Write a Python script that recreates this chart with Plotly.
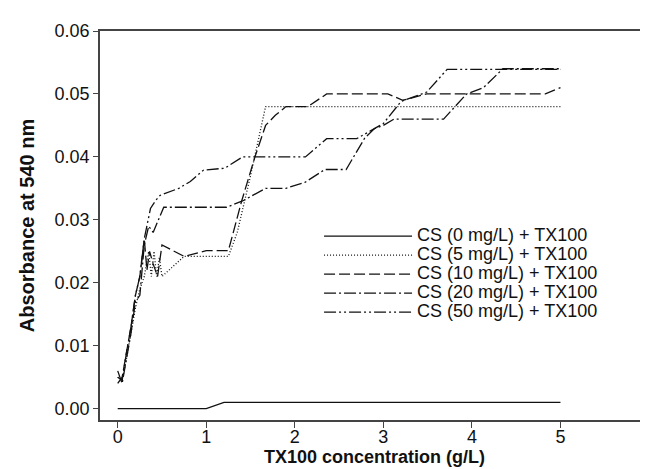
import plotly.graph_objects as go

# ---------------- data ----------------
x_cs0 = [0, 0.05, 0.1, 0.2, 0.3, 0.4, 0.5, 0.75, 1.0, 1.2, 1.5, 2.0, 2.5, 3.0, 3.5, 4.0, 4.5, 5.0]
y_cs0 = [0, 0, 0, 0, 0, 0, 0, 0, 0, 0.001, 0.001, 0.001, 0.001, 0.001, 0.001, 0.001, 0.001, 0.001]

x_cs5 = [0, 0.05, 0.1, 0.15, 0.2, 0.25, 0.3, 0.35, 0.38, 0.41, 0.44, 0.47, 0.5, 0.75, 1.0, 1.25,
         1.35, 1.5, 1.67, 2.0, 2.5, 3.0, 3.5, 4.0, 4.5, 5.0]
y_cs5 = [0.005, 0.0045, 0.008, 0.012, 0.016, 0.019, 0.021, 0.025, 0.021, 0.025, 0.021, 0.024, 0.021,
         0.0242, 0.0242, 0.0242, 0.028, 0.037, 0.048, 0.048, 0.048, 0.048, 0.048, 0.048, 0.048, 0.048]

x_cs10 = [0, 0.05, 0.1, 0.15, 0.2, 0.25, 0.3, 0.33, 0.36, 0.4, 0.45, 0.5, 0.75, 1.0, 1.25, 1.4,
          1.55, 1.67, 1.78, 1.9, 2.15, 2.36, 3.05, 3.22, 3.49, 4.83, 5.0]
y_cs10 = [0.004, 0.005, 0.009, 0.013, 0.018, 0.021, 0.027, 0.022, 0.025, 0.023, 0.021, 0.026, 0.0242,
          0.0251, 0.0251, 0.033, 0.040, 0.045, 0.0466, 0.048, 0.048, 0.050, 0.050, 0.049, 0.050, 0.050, 0.051]

x_cs20 = [0, 0.05, 0.1, 0.15, 0.2, 0.25, 0.3, 0.35, 0.4, 0.52, 1.23, 1.41, 1.67, 1.9, 2.12, 2.34,
          2.58, 2.79, 2.9, 3.0, 3.12, 3.68, 3.94, 4.13, 4.35, 5.0]
y_cs20 = [0.006, 0.004, 0.008, 0.012, 0.017, 0.018, 0.026, 0.029, 0.028, 0.032, 0.032, 0.033, 0.035,
          0.035, 0.036, 0.038, 0.038, 0.043, 0.0445, 0.045, 0.046, 0.046, 0.050, 0.051, 0.054, 0.054]

x_cs50 = [0, 0.05, 0.1, 0.15, 0.2, 0.25, 0.3, 0.37, 0.43, 0.48, 0.69, 0.82, 0.97, 1.21, 1.41, 2.0,
          2.12, 2.36, 2.7, 3.0, 3.2, 3.49, 3.72, 5.0]
y_cs50 = [0.005, 0.0045, 0.009, 0.013, 0.018, 0.021, 0.027, 0.0318, 0.0331, 0.0339, 0.035, 0.0361,
          0.0379, 0.0382, 0.040, 0.040, 0.040, 0.0429, 0.0429, 0.0453, 0.0488, 0.0503, 0.0539, 0.0539]

series_names = ["CS (0 mg/L) + TX100", "CS (5 mg/L) + TX100", "CS (10 mg/L) + TX100",
                "CS (20 mg/L) + TX100", "CS (50 mg/L) + TX100"]
x_ticks = [0, 1, 2, 3, 4, 5, 6]
y_ticks = [0.00, 0.01, 0.02, 0.03, 0.04, 0.05, 0.06]

# ---------------- styling ----------------
FONT = "Liberation Sans, Arial, sans-serif"
dashes = ["solid", "1px,2px", "11px,4px", "12px,3px,2px,3px", "12px,3px,2px,3px,2px,3px"]
xs = [x_cs0, x_cs5, x_cs10, x_cs20, x_cs50]
ys = [y_cs0, y_cs5, y_cs10, y_cs20, y_cs50]

fig = go.Figure()
for name, xv, yv, d in zip(series_names, xs, ys, dashes):
    fig.add_trace(go.Scatter(
        x=xv, y=yv, mode="lines",
        name='<span style="font-size:18px">' + name + '</span>',
        line=dict(color="#111111", width=1.3, dash=d),
    ))

fig.update_layout(
    width=648, height=469,
    margin=dict(l=92, r=2, t=23, b=57),
    paper_bgcolor="white", plot_bgcolor="white",
    font=dict(family=FONT, color="#111111", size=17),
    showlegend=True,
    legend=dict(
        x=0.399, y=0.51, xanchor="left", yanchor="top",
        bgcolor="rgba(0,0,0,0)", borderwidth=0,
        font=dict(size=11.5, family=FONT, color="#111111"),
        itemwidth=88, tracegroupgap=0,
    ),
    xaxis=dict(
        range=[-0.2, 6.0], tickvals=x_ticks, ticktext=[str(v) for v in x_ticks],
        showgrid=False, zeroline=False,
        showline=True, linecolor="#444444", linewidth=1.5, mirror=True,
        ticks="outside", ticklen=6, tickwidth=1.2, tickcolor="#444444",
        ticklabeloverflow="allow", ticklabelstandoff=-6,
        tickfont=dict(size=18, family=FONT, color="#111111"),
        title=dict(text="<b>TX100 concentration (g/L)</b>",
                   font=dict(size=18, family=FONT, color="#111111"), standoff=0),
    ),
    yaxis=dict(
        range=[-0.0018, 0.06], tickvals=y_ticks, ticktext=["%.2f" % v for v in y_ticks],
        showgrid=False, zeroline=False,
        showline=True, linecolor="#444444", linewidth=1.5, mirror=False,
        ticks="outside", ticklen=5, tickwidth=1.2, tickcolor="#444444",
        ticklabeloverflow="allow",
        tickfont=dict(size=18, family=FONT, color="#111111"),
        title=dict(text="<b>Absorbance at 540 nm</b>",
                   font=dict(size=20, family=FONT, color="#111111"), standoff=15),
    ),
)

fig.write_html("out.html")
